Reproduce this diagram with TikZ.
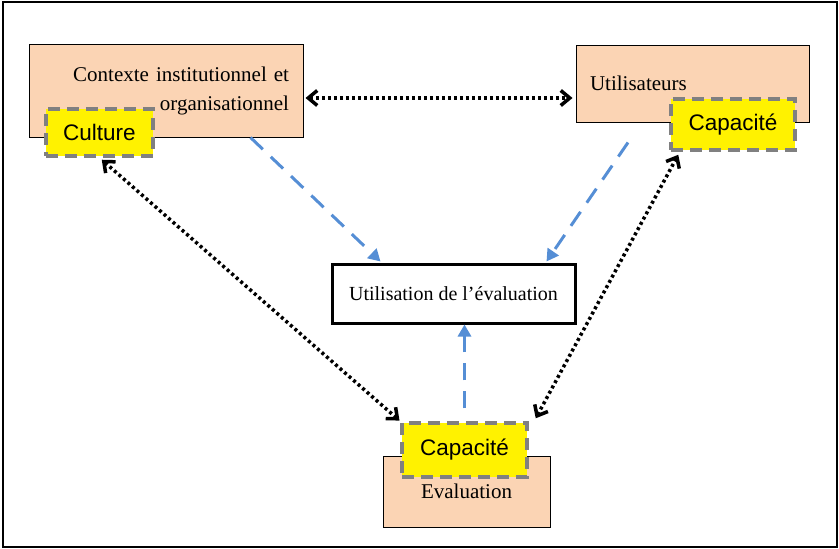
\documentclass[tikz,border=0pt]{standalone}
\usepackage{fontspec}
\setmainfont{Liberation Serif}
\newfontfamily\capfont{Liberation Sans}
\definecolor{PeachFill}{RGB}{251,212,180}
\definecolor{DashGray}{RGB}{128,128,128}
\definecolor{ArrowBlue}{RGB}{85,142,213}
\usetikzlibrary{arrows.meta,positioning,calc}

\begin{document}
\begin{tikzpicture}[
    x=1pt, y=-1pt,
    box/.style={rectangle, draw=black, line width=1pt, fill=PeachFill, inner sep=0pt,
                font=\fontsize{21}{29}\selectfont},
    tag/.style={rectangle, draw=DashGray, line width=3.5pt, dash pattern=on 12pt off 7pt,
                fill=yellow, inner sep=0pt, font=\capfont\fontsize{22.5}{26}\selectfont},
    link/.style={{Straight Barb[length=9pt,width=15pt,line width=3.5pt]}-{Straight Barb[length=9pt,width=15pt,line width=3.5pt]},
                 line width=3.5pt, dash pattern=on 3pt off 3pt},
    flow/.style={-{Triangle[length=12pt,width=13pt]}, ArrowBlue, line width=3pt,
                 dash pattern=on 17pt off 11pt}
]
\useasboundingbox (0,0) rectangle (839,549);
\draw[line width=2pt] (3,2) rectangle (837,547);

% boxes
\node[box, minimum width=274pt, minimum height=93pt, text width=246pt, align=right] (ctx)
    at (166,90.5) {Contexte institutionnel et\\organisationnel};
\node[box, minimum width=233pt, minimum height=77pt, text width=205pt, align=left] (users)
    at (692.5,83.5) {Utilisateurs};
\node[box, minimum width=167pt, minimum height=71pt, text width=167pt, align=center] (eval)
    at (466.5,491.5) {\raisebox{-1pt}{Evaluation}};
\node[box, fill=white, line width=3pt, minimum width=243pt, minimum height=59pt,
      font=\fontsize{20}{26}\selectfont] (util)
    at (453.5,293.5) {Utilisation de l’évaluation};

% capacity tags
\node[tag, minimum width=107pt, minimum height=47pt] (culture) at (99.5,132.5) {Culture};
\node[tag, minimum width=124pt, minimum height=51pt] (capu) at (733,124.5) {Capacité};
\node[tag, minimum width=125pt, minimum height=54pt] (cape) at (464.5,450) {Capacité};

% links
\draw[link, shorten <=2pt, shorten >=3pt] ([yshift=-7.5pt]ctx.east) -- ([yshift=-14.5pt]users.west);
\draw[link, shorten <=3pt, shorten >=1pt] (culture.south) -- (cape.north west);
\draw[link] ([xshift=9pt,yshift=-3pt]capu.south west) -- ([xshift=7pt,yshift=3pt]cape.north east);

% influence on use
\draw[flow] ([xshift=-53pt]ctx.south east) -- ([xshift=50pt,yshift=1pt]util.north west);
\draw[flow] ([xshift=-64.5pt,yshift=-20pt]users.south) -- ([xshift=-30pt,yshift=1pt]util.north east);
\draw[flow, shorten <=13pt] (cape.north) -- (cape.north |- util.south);

\end{tikzpicture}
\end{document}
